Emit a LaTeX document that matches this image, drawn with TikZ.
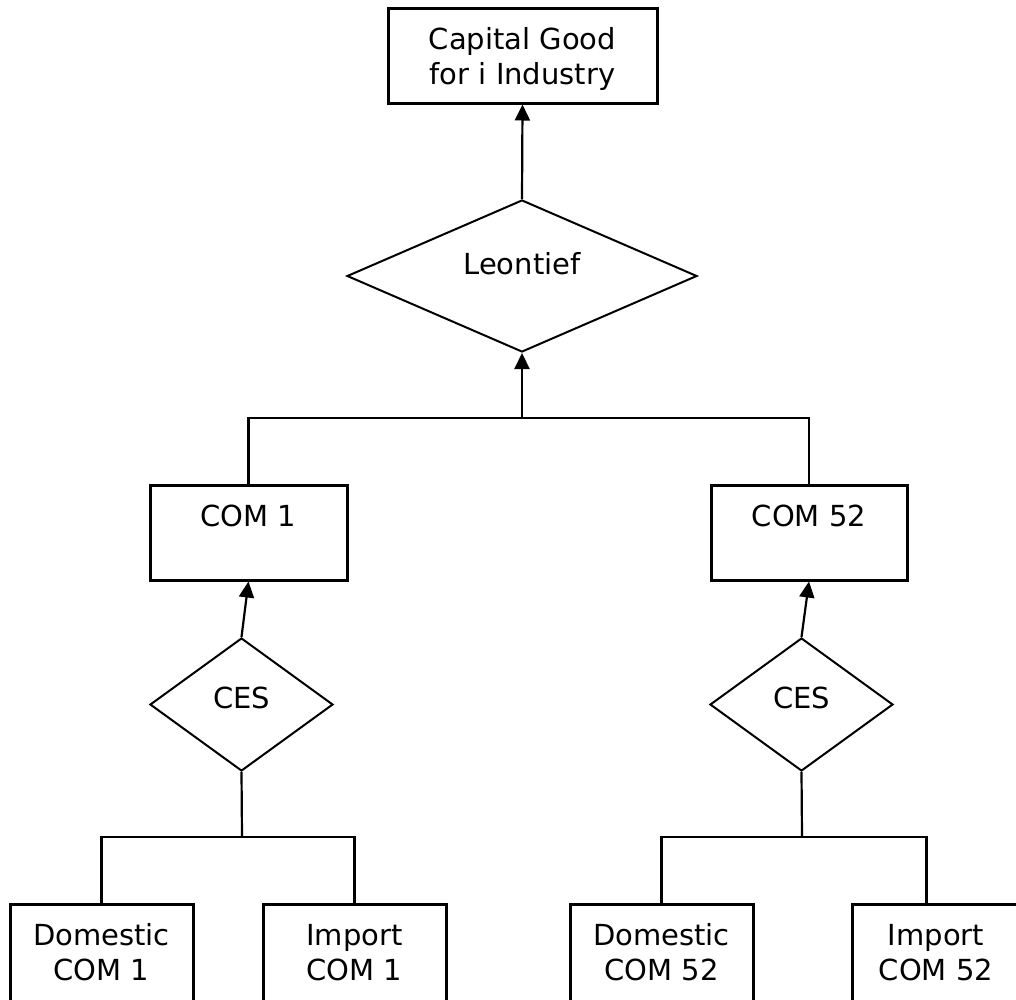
\documentclass[tikz,border=0pt]{standalone}
\usepackage{fontspec}
\setmainfont{DejaVu Sans}
\usetikzlibrary{shapes.geometric,arrows.meta,calc}
\newcommand{\twolines}[2]{\begin{tabular}[t]{@{}c@{}}#1\\#2\end{tabular}}
\begin{document}
\begin{tikzpicture}[x=1pt,y=-1pt,
  every node/.style={font=\fontsize{29}{35}\selectfont},
  boxnode/.style={draw,line width=3pt,rectangle,minimum height=95pt,inner sep=0pt,text height=41pt,text depth=54pt},
  lowbox/.style={boxnode,minimum height=102pt,text depth=61pt},
  dianode/.style={draw,diamond,line width=2pt,inner sep=0pt},
  conn/.style={line width=2.2pt},
  arr/.style={conn,-{Triangle[length=16pt,width=15pt]}}]
\useasboundingbox (0,0) rectangle (1016,999);
\clip (0,0) rectangle (1016,999);

% top
\node[boxnode,minimum width=269pt] (cap) at (522.5,55.5) {\twolines{Capital Good}{for i Industry}};
\node[dianode,minimum width=350pt,minimum height=152pt,text height=10pt,text depth=14pt] (leon) at (522,276) {Leontief};

% middle
\node[boxnode,minimum width=197pt] (com1) at (248.5,532.5) {COM 1};
\node[boxnode,minimum width=196pt] (com52) at (809,532.5) {COM 52};
\node[dianode,minimum width=183pt,minimum height=133pt,text height=12pt,text depth=5pt] (ces1) at (241.5,704.5) {CES};
\node[dianode,minimum width=183pt,minimum height=133pt,text height=12pt,text depth=5pt] (ces52) at (801.5,704.5) {CES};

% bottom (cut off by the lower edge)
\node[lowbox,minimum width=183pt] (dom1) at (101.5,955) {\twolines{Domestic}{COM 1}};
\node[lowbox,minimum width=183pt] (imp1) at (354.5,955) {\twolines{Import}{COM 1}};
\node[lowbox,minimum width=183pt] (dom52) at (661.5,955) {\twolines{Domestic}{COM 52}};
\node[lowbox,minimum width=168pt] (imp52) at (936,955) {\twolines{Import}{COM 52}};

% junctions
\coordinate (jt) at (522,418);
\coordinate (j1) at (242,837);
\coordinate (j2) at (802,837);
\coordinate (imp52in) at ($(imp52.north west)+(76,0)$);

% connectors
\draw[arr] (leon.north) -- (cap.south);
\draw[arr] (jt) -- (leon.south);
\draw[conn] (com1.north) |- (jt) -| (com52.north);
\draw[arr] (ces1.north) -- (com1.south);
\draw[arr] (ces52.north) -- (com52.south);
\draw[conn] (ces1.south) -- (j1);
\draw[conn] (dom1.north) |- (j1) -| (imp1.north);
\draw[conn] (ces52.south) -- (j2);
\draw[conn] (dom52.north) |- (j2) -| (imp52in);
\end{tikzpicture}
\end{document}
